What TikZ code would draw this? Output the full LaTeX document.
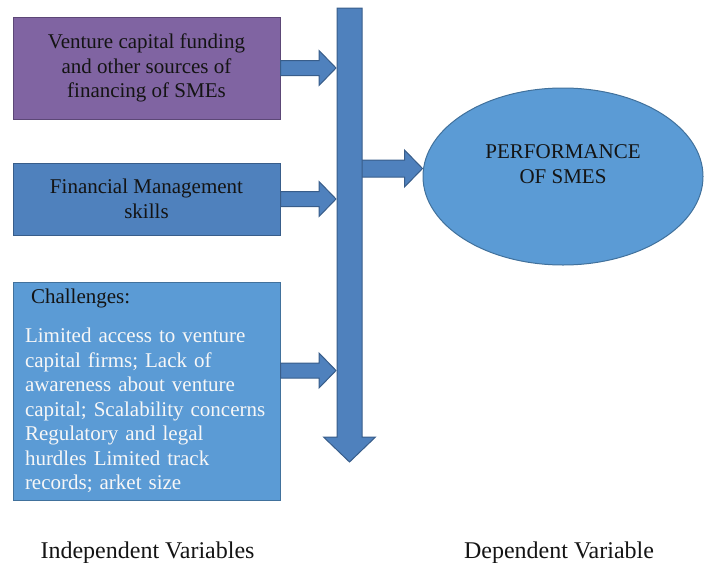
\documentclass[tikz,border=0pt]{standalone}
\usepackage{fontspec}
\setmainfont{Liberation Serif}
\usetikzlibrary{calc,shapes.geometric}

\definecolor{purplefill}{HTML}{8064A2}
\definecolor{purpleline}{HTML}{5C4776}
\definecolor{bluefill}{HTML}{4F81BD}
\definecolor{blueline}{HTML}{385D8A}
\definecolor{lightfill}{HTML}{5B9BD5}
\definecolor{lightline}{HTML}{41719C}
\definecolor{inktext}{HTML}{141414}
\definecolor{paletext}{HTML}{F7F7F7}

% horizontal block arrow: tail, tip, half shaft, half head, head length
\newcommand{\rightblock}[5]{%
  \draw[blockarrow] let \p1=(#1), \p2=(#2) in
    (\x1,\y1+#3) -- (\x2-#5,\y1+#3) -- (\x2-#5,\y1+#4) -- (\x2,\y1)
    -- (\x2-#5,\y1-#4) -- (\x2-#5,\y1-#3) -- (\x1,\y1-#3) -- cycle;}

\tikzset{
  boxfont/.style={font=\fontsize{21}{24.5}\selectfont},
  varbox/.style={rectangle, draw, line width=1pt, minimum width=267pt,
    inner sep=0pt, boxfont},
  blockarrow/.style={fill=bluefill, draw=blueline, line width=1pt, line join=miter},
  caption/.style={font=\fontsize{24}{28}\selectfont, text=inktext, anchor=base},
}

\begin{document}
\begin{tikzpicture}[x=1pt, y=-1pt]
\useasboundingbox (0,0) rectangle (706,562);

% independent variables
\node[varbox, fill=purplefill, draw=purpleline, minimum height=102pt,
      text=inktext, align=center] (funding) at (146.5,68)
  {Venture capital funding\\and other sources of\\financing of SMEs};
\node[varbox, fill=bluefill, draw=blueline, minimum height=72pt,
      text=inktext, align=center] (skills) at (146.5,199)
  {Financial Management\\skills};
\node[varbox, fill=lightfill, draw=lightline, minimum height=218pt,
      text width=243pt, inner xsep=12pt, align=left, text=paletext] (challenges) at (146.5,391)
  {\hspace*{6pt}\textcolor{inktext}{Challenges:}\\[14.5pt]
   Limited access to venture\\
   capital firms; Lack of\\
   awareness about venture\\
   capital; Scalability concerns\\
   Regulatory and legal\\
   hurdles Limited track\\
   records; arket size};

% dependent variable
\node[ellipse, fill=lightfill, draw=lightline, line width=1pt,
      minimum width=280pt, minimum height=177pt, inner sep=0pt,
      label={[boxfont, text=inktext, align=center, yshift=12.5pt]center:PERFORMANCE\\OF SMES}]
  (performance) at (563,176.5) {};

% collecting bar
\coordinate (bartop) at (349.5,8);
\coordinate (bartip) at (349.5,462);
\coordinate (barleft) at (336,0);
\coordinate (hub) at (360,168.5);

\rightblock{funding.east}{barleft}{7.5pt}{17.5pt}{17pt}
\rightblock{skills.east}{barleft}{7.5pt}{17.5pt}{17pt}
\rightblock{$(challenges.east)+(0,-20.5)$}{barleft}{7.5pt}{17.5pt}{17pt}
\rightblock{hub}{performance.west}{8.5pt}{18.5pt}{18pt}

\draw[blockarrow] let \p1=(bartop), \p2=(bartip) in
  (\x1-12.5pt,\y1) -- (\x1+12.5pt,\y1) -- (\x1+12.5pt,\y2+25pt)
  -- (\x1+26pt,\y2+25pt) -- (\x2,\y2) -- (\x1-26pt,\y2+25pt)
  -- (\x1-12.5pt,\y2+25pt) -- cycle;

% captions
\node[caption] (indep) at (147.5,558) {Independent Variables};
\node[caption] (dep) at (559,558) {Dependent Variable};
\end{tikzpicture}
\end{document}
